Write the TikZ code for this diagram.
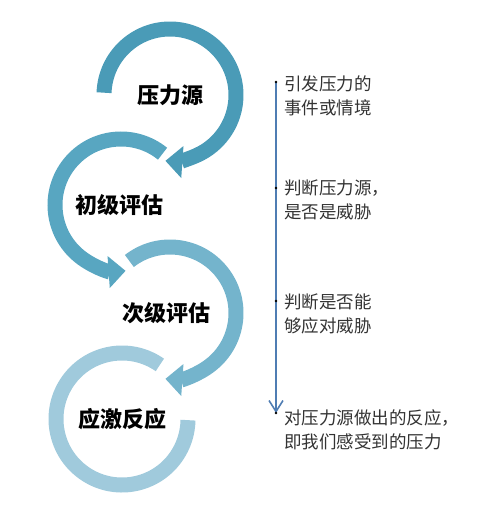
\documentclass[tikz,border=0pt]{standalone}
\usepackage{fontspec}
\newfontfamily\cjk{Noto Sans CJK SC}
\usepackage{tikz}
\usetikzlibrary{positioning, arrows.meta, calc}

\definecolor{ringA}{HTML}{4A9BB7}
\definecolor{ringB}{HTML}{58A6C1}
\definecolor{ringC}{HTML}{74B4CC}
\definecolor{ringD}{HTML}{A0CADC}
\definecolor{lineblue}{HTML}{4F7DB3}
\definecolor{notegray}{HTML}{333333}

\tikzset{
    ring/.style={line width=15pt},
    ringhead/.style={-{Triangle[width=31pt, length=17pt]}},
    ringtext/.style={font=\cjk\bfseries\fontsize{22}{26}\selectfont, text=black, inner sep=0pt},
    note/.style={font=\cjk\fontsize{17.5}{24}\selectfont, text=notegray, align=left, anchor=west, inner sep=0pt},
    timeline/.style={lineblue, line width=1.6pt},
}

\begin{document}
\begin{tikzpicture}[x=1pt, y=1pt]
            \def\rmid{66pt}
            \useasboundingbox (0,0) rectangle (485,-519);

            \coordinate (P1) at (170,-95);
            \coordinate (P2) at (121,-205);
            \coordinate (P3) at (170,-313);
            \coordinate (P4) at (122,-419);

            % rings
            \draw[ringA, ring, ringhead]
                (P1) ++(178:\rmid) arc[start angle=178, end angle=-94, radius=\rmid];
            \draw[ringB, ring, ringhead]
                (P2) ++(51:\rmid) arc[start angle=51, end angle=274, radius=\rmid];
            \draw[ringC, ring, ringhead]
                (P3) ++(128:\rmid) arc[start angle=128, end angle=-94, radius=\rmid];
            \draw[ringD, ring]
                (P4) ++(55:\rmid) arc[start angle=55, end angle=359, radius=\rmid];

            % ring labels
            \node[ringtext] (src) at (P1) {压力源};
            \node[ringtext] (first) at ($(P2)+(-2,0)$) {初级评估};
            \node[ringtext] (second) at ($(P3)+(-4,0)$) {次级评估};
            \node[ringtext] (resp) at (P4) {应激反应};

            % time line
            \coordinate (t1) at (276,-82);
            \coordinate (t2) at (276,-188);
            \coordinate (t3) at (276,-301);
            \coordinate (t4) at (276,-413);
            \draw[timeline, -{Straight Barb[width=14pt, length=11pt, line width=1.6pt]}] (t1) -- (t4);

            \foreach \point in {t1,t2,t3,t4}{
                \fill[black] (\point) circle (1.4pt);
            }

            % notes
            \foreach \name/\y/\txt in {n1/-96/{引发压力的\\事件或情境},
                                       n2/-200/{判断压力源，\\是否是威胁},
                                       n3/-314/{判断是否能\\够应对威胁},
                                       n4/-430/{对压力源做出的反应，\\即我们感受到的压力}}{
                \node[note] (\name) at (284,\y) {\txt};
            }
        \end{tikzpicture}
\end{document}
